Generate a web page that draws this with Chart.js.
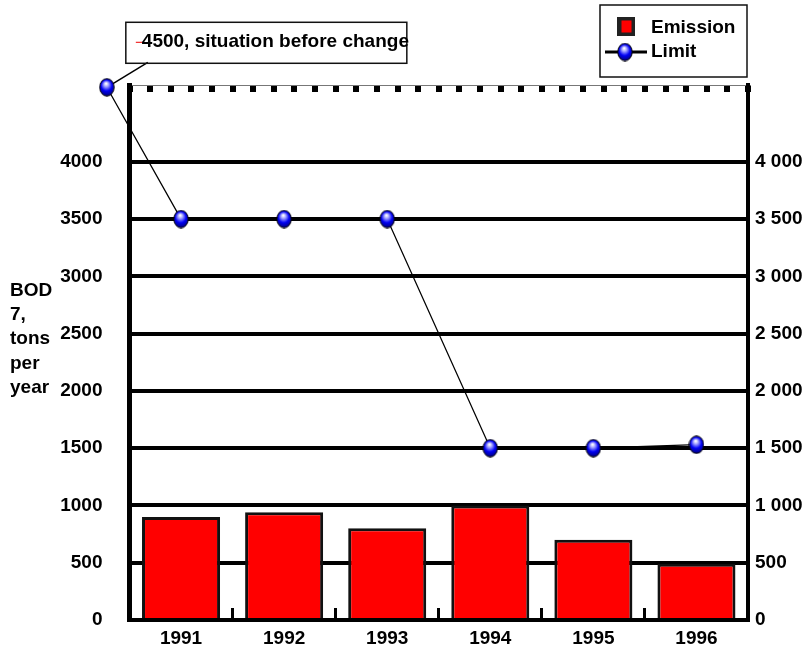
<!DOCTYPE html>
<html>
<head>
  <title>BOD7 emission and limit</title>
  <script src="https://cdn.jsdelivr.net/npm/chart.js"></script>
  <style>
    body {
      margin: 0;
      background: #fff;
    }

    #chartContainer {
      position: relative;
      width: 812px;
      height: 651px;
    }
  </style>
</head>
<body>
  <div id="chartContainer">
    <canvas id="myChart"></canvas>
  </div>

  <script>
    const years = ['1991', '1992', '1993', '1994', '1995', '1996'];
    const emission = [900, 940, 800, 1000, 700, 490];
    // limit line: first point is the old limit, drawn left of 1991
    const limitPos = [-0.72, 0, 1, 2, 3, 4, 5];
    const limitValues = [4650, 3500, 3500, 3500, 1500, 1500, 1530];
    const yTicks = [0, 500, 1000, 1500, 2000, 2500, 3000, 3500, 4000];
    const yTitle = ['BOD', '7,', 'tons', 'per', 'year'];
    const noteText = '4500, situation before change';

    const FONT = 'bold 19px "Liberation Sans", Arial, sans-serif';
    const tickFont = { family: '"Liberation Sans", Arial, sans-serif', size: 19, weight: 'bold' };

    function makeSphere(w, h) {
      const c = document.createElement('canvas');
      c.width = w;
      c.height = h;
      const g = c.getContext('2d');
      const grad = g.createRadialGradient(w * 0.45, h * 0.3, 0.5, w / 2, h / 2, h * 0.55);
      grad.addColorStop(0, '#ffffff');
      grad.addColorStop(0.2, '#a0a0ff');
      grad.addColorStop(0.5, '#0000f5');
      grad.addColorStop(1, '#000050');
      g.fillStyle = grad;
      g.beginPath();
      g.ellipse(w / 2, h / 2, w / 2 - 0.8, h / 2 - 0.8, 0, 0, Math.PI * 2);
      g.fill();
      g.lineWidth = 1;
      g.strokeStyle = '#000';
      g.stroke();
      return c;
    }
    const sphere = makeSphere(16, 19);

    function spaced(v) {
      if (v < 1000) return String(v);
      return Math.floor(v / 1000) + ' ' + String(v % 1000).padStart(3, '0');
    }

    const extras = {
      id: 'extras',
      beforeDatasetsDraw(chart) {
        // leader line from the first limit point to the note box
        const p = chart.getDatasetMeta(1).data[0];
        const ctx = chart.ctx;
        ctx.save();
        ctx.strokeStyle = '#000';
        ctx.lineWidth = 1.5;
        ctx.beginPath();
        ctx.moveTo(p.x, p.y);
        ctx.lineTo(p.x + 41, p.y - 25);
        ctx.stroke();
        ctx.restore();
      },
      afterDatasetsDraw(chart) {
        // Chart.js skips points outside the chart area, the old limit sits there
        const area = chart.chartArea;
        chart.getDatasetMeta(1).data.forEach(p => {
          if (p.x < area.left || p.y < area.top) {
            chart.ctx.drawImage(sphere, p.x - sphere.width / 2, p.y - sphere.height / 2);
          }
        });
      },
      afterDraw(chart) {
        const ctx = chart.ctx;
        ctx.save();
        ctx.font = FONT;
        ctx.fillStyle = '#000';
        ctx.textAlign = 'left';
        ctx.textBaseline = 'alphabetic';

        // y title, horizontal lines at the left
        yTitle.forEach((t, i) => ctx.fillText(t, 10, 296 + i * 24.2));

        // note box next to the first limit point
        const p = chart.getDatasetMeta(1).data[0];
        ctx.strokeStyle = '#111';
        ctx.lineWidth = 1.5;
        ctx.strokeRect(p.x + 19, p.y - 65, 281, 41);
        ctx.strokeStyle = '#e00';
        ctx.lineWidth = 1;
        ctx.beginPath();
        ctx.moveTo(p.x + 29, p.y - 45);
        ctx.lineTo(p.x + 36, p.y - 45);
        ctx.stroke();
        ctx.fillText(noteText, p.x + 35, p.y - 40);

        // legend
        const ds = chart.data.datasets;
        ctx.strokeStyle = '#111';
        ctx.lineWidth = 1.5;
        ctx.strokeRect(600, 5, 147, 72);
        ctx.fillStyle = '#222';
        ctx.fillRect(617, 17, 18, 19);
        ctx.fillStyle = ds[0].backgroundColor;
        ctx.fillRect(621.5, 20.5, 10, 12);
        ctx.strokeStyle = '#000';
        ctx.lineWidth = 3;
        ctx.beginPath();
        ctx.moveTo(605, 52);
        ctx.lineTo(647, 52);
        ctx.stroke();
        ctx.drawImage(sphere, 625 - sphere.width / 2, 52 - sphere.height / 2);
        ctx.fillStyle = '#000';
        ctx.fillText(ds[0].label, 651, 33);
        ctx.fillText(ds[1].label, 651, 57);
        ctx.restore();
      }
    };

    const setTicks = s => { s.ticks = yTicks.map(v => ({ value: v })); };
    // fixed axis widths, and no extra room below the chart for the "0" label
    const fixWidth = w => s => { s.width = w; s.paddingTop = 0; s.paddingBottom = 0; };

    new Chart(document.getElementById('myChart'), {
      type: 'bar',
      data: {
        labels: years,
        datasets: [
          {
            type: 'bar',
            label: 'Emission',
            data: emission,
            backgroundColor: '#ff0000',
            borderColor: '#111',
            borderWidth: 3,
            barPercentage: 0.757,
            categoryPercentage: 1,
            grouped: false,
            xAxisID: 'x',
            yAxisID: 'y',
            order: 1
          },
          {
            type: 'line',
            label: 'Limit',
            data: limitPos.map((x, i) => ({ x: x, y: limitValues[i] })),
            borderColor: '#000',
            borderWidth: 1.3,
            pointStyle: sphere,
            pointRadius: 9,
            tension: 0,
            clip: false,
            xAxisID: 'xl',
            yAxisID: 'y',
            order: 0
          }
        ]
      },
      options: {
        responsive: true,
        maintainAspectRatio: false,
        animation: false,
        layout: { padding: { top: 85, left: 0, right: 0, bottom: 0 } },
        plugins: {
          legend: { display: false },
          tooltip: { enabled: false }
        },
        scales: {
          x: {
            type: 'category',
            position: 'bottom',
            offset: true,
            grid: { offset: true, drawOnChartArea: false, tickLength: -12, lineWidth: 3, color: '#000' },
            border: { display: true, color: '#000', width: 4 },
            ticks: { color: '#000', font: tickFont, padding: 19, maxRotation: 0, autoSkip: false },
            afterFit: s => { s.height = 31; }
          },
          xl: {
            type: 'linear',
            display: false,
            offset: false,
            min: -0.5,
            max: 5.5
          },
          xt: {
            type: 'linear',
            position: 'top',
            offset: false,
            min: 0,
            max: 30,
            ticks: { display: false, stepSize: 1 },
            grid: { offset: false, drawOnChartArea: false, tickLength: -7, lineWidth: 6, color: '#000' },
            border: { display: true, color: '#777', width: 1 },
            afterFit: s => { s.height = 0; }
          },
          y: {
            position: 'left',
            min: 0,
            max: 4670,
            afterBuildTicks: setTicks,
            grid: { color: '#000', lineWidth: 4, drawTicks: false },
            border: { display: true, color: '#000', width: 5 },
            ticks: { color: '#000', font: tickFont, padding: 27, callback: v => String(v) },
            afterFit: fixWidth(129.5)
          },
          y2: {
            position: 'right',
            min: 0,
            max: 4670,
            afterBuildTicks: setTicks,
            grid: { drawOnChartArea: false, drawTicks: false },
            border: { display: true, color: '#000', width: 4 },
            ticks: { color: '#000', font: tickFont, padding: 7, callback: v => spaced(v) },
            afterFit: fixWidth(64)
          }
        }
      },
      plugins: [extras]
    });
  </script>
</body>
</html>
